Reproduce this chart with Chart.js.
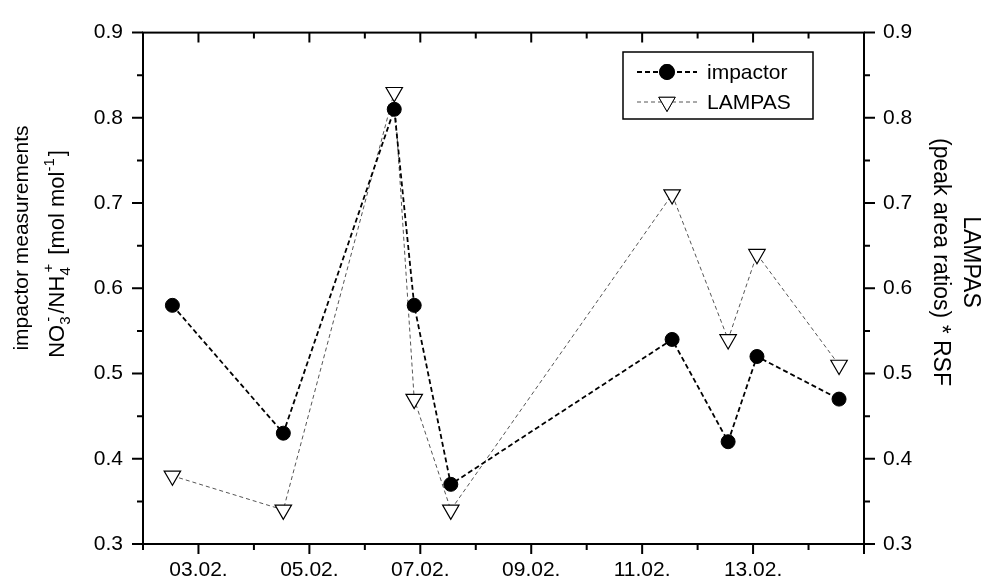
<!DOCTYPE html>
<html>
<head>
<meta charset="utf-8">
<script src="https://cdn.jsdelivr.net/npm/chart.js@4/dist/chart.umd.min.js"></script>
<style>
  html, body { margin: 0; padding: 0; background: #fff; }
  #wrap { width: 981px; height: 580px; }
</style>
</head>
<body>
<div id="wrap"><canvas id="myChart" width="981" height="580"></canvas></div>
<script>
// sampling times (day of February, fractional)
const sampleDays = [2.53, 4.53, 6.53, 6.89, 7.55, 11.54, 12.55, 13.07, 14.55];
// impactor NO3-/NH4+ ratios
const impactorValues = [0.58, 0.43, 0.81, 0.58, 0.37, 0.54, 0.42, 0.52, 0.47];
// LAMPAS peak area ratios * RSF
const lampasValues = [0.38, 0.34, 0.83, 0.47, 0.34, 0.71, 0.54, 0.64, 0.51];

// x tick labels
const xTickDays = [3, 5, 7, 9, 11, 13];
const xTickLabels = ['03.02.', '05.02.', '07.02.', '09.02.', '11.02.', '13.02.'];

const FONT = 'Liberation Sans, Arial, sans-serif';

function toPoints(xs, ys) {
    return xs.map((x, i) => ({ x: x, y: ys[i] }));
}

// frame, ticks, axis titles and legend
const framePlugin = {
    id: 'frame',
    afterDraw(chart) {
        const ctx = chart.ctx;
        const a = chart.chartArea;
        const xs = chart.scales.x;
        const yl = chart.scales.y;
        ctx.save();
        ctx.strokeStyle = '#000';
        ctx.lineWidth = 2;
        ctx.setLineDash([]);
        ctx.strokeRect(a.left, a.top, a.right - a.left, a.bottom - a.top);

        // x ticks: bottom outward, top inward
        for (let d = xs.min; d <= xs.max; d++) {
            const px = xs.getPixelForValue(d);
            const len = d % 2 === 1 ? 10 : 6;
            ctx.beginPath();
            ctx.moveTo(px, a.bottom); ctx.lineTo(px, a.bottom + len);
            ctx.moveTo(px, a.top); ctx.lineTo(px, a.top + len);
            ctx.stroke();
        }
        // y ticks: both sides outward
        for (let k = 0; k <= 12; k++) {
            const v = 0.3 + k * 0.05;
            const py = yl.getPixelForValue(v);
            const len = k % 2 === 0 ? 11 : 6;
            ctx.beginPath();
            ctx.moveTo(a.left - len, py); ctx.lineTo(a.left, py);
            ctx.moveTo(a.right, py); ctx.lineTo(a.right + len, py);
            ctx.stroke();
        }

        // left title
        ctx.fillStyle = '#000';
        ctx.save();
        ctx.translate(22, 238);
        ctx.rotate(-Math.PI / 2);
        ctx.font = '21px ' + FONT;
        ctx.textAlign = 'center';
        ctx.textBaseline = 'middle';
        ctx.fillText('impactor measurements', 0, 0);
        ctx.restore();

        // second line with sub/superscripts
        ctx.save();
        ctx.translate(56, 254);
        ctx.rotate(-Math.PI / 2);
        const big = '22px ' + FONT;
        const small = '15px ' + FONT;
        const parts = [
            { t: 'NO', f: big, dy: 0 },
            { t: '3', f: small, dy: 6, stack: '-', sdy: -11, gap: 3 },
            { t: '/NH', f: big, dy: 0 },
            { t: '4', f: small, dy: 6, stack: '+', sdy: -11, gap: 3 },
            { t: ' [mol mol', f: big, dy: 0 },
            { t: '-1', f: small, dy: -10, gap: 2 },
            { t: ']', f: big, dy: 0 }
        ];
        let total = 0;
        parts.forEach(p => {
            ctx.font = p.f;
            let w = ctx.measureText(p.t).width;
            if (p.stack) w = Math.max(w, ctx.measureText(p.stack).width + 3);
            p.w = w + (p.gap || 0);
            total += p.w;
        });
        let cx = -total / 2;
        ctx.textBaseline = 'alphabetic';
        ctx.textAlign = 'left';
        parts.forEach(p => {
            ctx.font = p.f;
            ctx.fillText(p.t, cx, 8 + p.dy);
            if (p.stack) ctx.fillText(p.stack, cx + 3, 8 + p.sdy);
            cx += p.w;
        });
        ctx.restore();

        // right title
        ctx.save();
        ctx.translate(955, 262);
        ctx.rotate(Math.PI / 2);
        ctx.font = '23px ' + FONT;
        ctx.textAlign = 'center';
        ctx.textBaseline = 'middle';
        ctx.fillText('LAMPAS', 0, -15);
        ctx.fillText('(peak area ratios) * RSF', 0, 15);
        ctx.restore();

        // legend
        ctx.lineWidth = 1.5;
        ctx.strokeStyle = '#000';
        ctx.strokeRect(623, 52, 190, 67);
        const rows = [72, 102];
        chart.data.datasets.forEach((ds, i) => {
            const y = rows[i];
            ctx.save();
            ctx.strokeStyle = ds.borderColor;
            ctx.lineWidth = ds.borderWidth;
            ctx.setLineDash(ds.borderDash);
            ctx.beginPath();
            ctx.moveTo(637, y); ctx.lineTo(697, y);
            ctx.stroke();
            ctx.setLineDash([]);
            Chart.helpers.drawPoint(ctx, {
                pointStyle: ds.pointStyle,
                rotation: ds.pointRotation,
                radius: ds.pointRadius,
                borderWidth: ds.pointBorderWidth
            }, 667, y);
            ctx.fillStyle = ds.pointBackgroundColor;
            ctx.strokeStyle = ds.pointBorderColor;
            ctx.fill();
            ctx.stroke();
            ctx.restore();
            ctx.font = '21px ' + FONT;
            ctx.fillStyle = '#000';
            ctx.textAlign = 'left';
            ctx.textBaseline = 'middle';
            ctx.fillText(ds.label, 707, y + 1);
        });
        ctx.restore();
    }
};

const ctx = document.getElementById('myChart').getContext('2d');

const myChart = new Chart(ctx, {
    type: 'line',
    data: {
        datasets: [
            {
                label: 'impactor',
                data: toPoints(sampleDays, impactorValues),
                yAxisID: 'y',
                borderColor: '#000',
                borderWidth: 1.8,
                borderDash: [5, 3],
                pointStyle: 'circle',
                pointRadius: 7,
                pointBorderWidth: 1,
                pointBackgroundColor: '#000',
                pointBorderColor: '#000',
                tension: 0,
                order: 1
            },
            {
                label: 'LAMPAS',
                data: toPoints(sampleDays, lampasValues),
                yAxisID: 'y2',
                borderColor: '#555',
                borderWidth: 1,
                borderDash: [4, 3],
                pointStyle: 'triangle',
                pointRotation: 180,
                pointRadius: 9.5,
                pointBorderWidth: 1.2,
                pointBackgroundColor: '#fff',
                pointBorderColor: '#000',
                tension: 0,
                order: 2
            }
        ]
    },
    options: {
        responsive: false,
        animation: false,
        layout: { padding: { top: 23, left: 0, right: 0, bottom: 0 } },
        plugins: {
            legend: { display: false },
            tooltip: { enabled: false }
        },
        scales: {
            x: {
                type: 'linear',
                min: 2,
                max: 15,
                grid: { display: false, drawTicks: false },
                border: { display: false },
                afterFit: s => { s.height = 36; },
                ticks: {
                    stepSize: 1,
                    autoSkip: false,
                    maxRotation: 0,
                    padding: 14,
                    color: '#000',
                    font: { family: FONT, size: 21 },
                    callback: v => {
                        const i = xTickDays.indexOf(v);
                        return i >= 0 ? xTickLabels[i] : '';
                    }
                }
            },
            y: {
                position: 'left',
                min: 0.3,
                max: 0.9,
                grid: { display: false, drawTicks: false },
                border: { display: false },
                afterFit: s => { s.width = 143; },
                ticks: {
                    stepSize: 0.1,
                    padding: 20,
                    color: '#000',
                    font: { family: FONT, size: 21 },
                    callback: v => v.toFixed(1)
                }
            },
            y2: {
                position: 'right',
                min: 0.3,
                max: 0.9,
                grid: { display: false, drawTicks: false },
                border: { display: false },
                afterFit: s => { s.width = 117; },
                ticks: {
                    stepSize: 0.1,
                    padding: 19,
                    color: '#000',
                    font: { family: FONT, size: 21 },
                    callback: v => v.toFixed(1)
                }
            }
        }
    },
    plugins: [framePlugin]
});
</script>
</body>
</html>
